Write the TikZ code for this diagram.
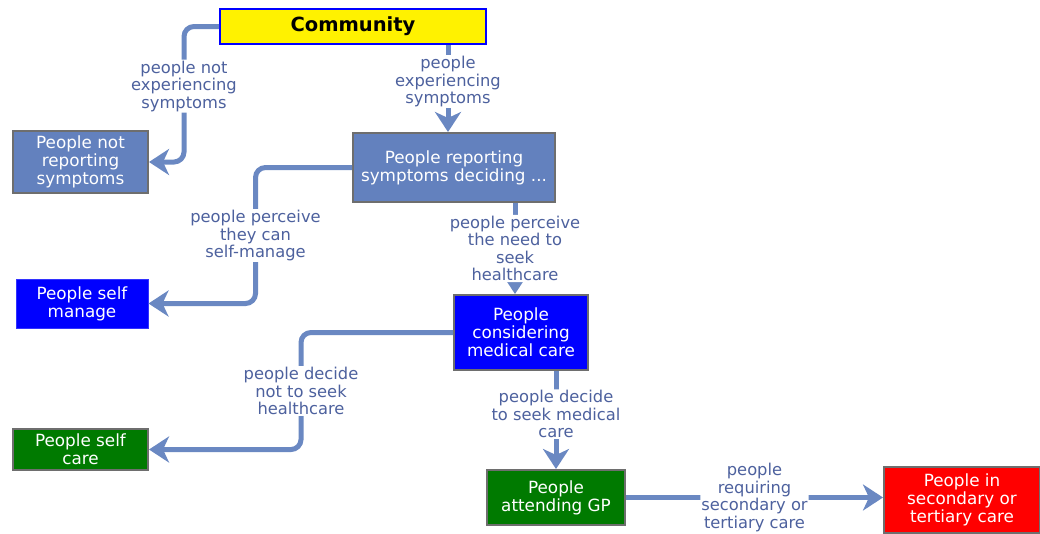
\documentclass[tikz,border=0pt]{standalone}
\usepackage{fontspec}
\setmainfont{DejaVu Sans}
\usetikzlibrary{arrows.meta}
\definecolor{steel}{HTML}{6381BE}
\definecolor{conncol}{HTML}{6A88C2}
\definecolor{labcol}{HTML}{4D619E}
\definecolor{bordgray}{HTML}{6E6E6E}
\definecolor{gpgreen}{HTML}{007A00}
\tikzset{
  box/.style={draw=bordgray, line width=2pt, text=white, align=center, inner sep=0pt,
    font=\fontsize{16.8}{18}\selectfont},
  conn/.style={draw=conncol, line width=5pt, rounded corners=10pt,
    -{Stealth[length=20pt,width=26pt,inset=6pt]}},
  lab/.style={fill=white, text=labcol, align=center, inner sep=1pt,
    font=\fontsize{16.3}{17.5}\selectfont},
}
\begin{document}
\begin{tikzpicture}[x=1pt,y=-1pt]
\useasboundingbox (0,0) rectangle (1040,533);
\node[draw=blue, line width=2pt, fill=yellow, minimum width=266pt, minimum height=35pt,
  font=\fontsize{19.5}{22}\selectfont\bfseries, inner sep=0pt] (comm) at (353,26.5) {Community};
\node[box, fill=steel, minimum width=135pt, minimum height=62pt] (nrep) at (80.5,162) {People not\\reporting\\symptoms};
\node[box, fill=steel, minimum width=202pt, minimum height=69pt] (rep) at (454,167.5) {People reporting\\symptoms deciding ...};
\node[box, fill=blue, draw=blue!80!white, line width=1pt, minimum width=132pt, minimum height=49pt] (sm) at (82,303.5) {People self\\manage};
\node[box, fill=blue, minimum width=134pt, minimum height=75pt] (cons) at (521,332.5) {People\\considering\\medical care};
\node[box, fill=gpgreen, minimum width=135pt, minimum height=41pt] (sc) at (80.5,449.5) {People self\\care};
\node[box, fill=gpgreen, minimum width=138pt, minimum height=55pt] (gp) at (556,497.5) {People\\attending GP};
\node[box, fill=red, minimum width=156pt, minimum height=66pt] (sec) at (962,500) {People in\\secondary or\\tertiary care};

\draw[conn] (comm.west) -| node[lab, pos=0.72]{people not\\experiencing\\symptoms} ([xshift=35pt]nrep.east) -- (nrep.east);
\draw[conn] ([xshift=95pt]comm.south) -- node[lab, pos=0.42]{people\\experiencing\\symptoms} ([xshift=95pt]comm.south |- rep.north);
\draw[conn] (rep.west) -| node[lab, pos=0.75]{people perceive\\they can\\self-manage} ([xshift=107pt]sm.east) -- (sm.east);
\draw[conn] ([xshift=61pt]rep.south) -- node[lab, pos=0.5]{people perceive\\the need to\\seek\\healthcare} ([xshift=61pt]rep.south |- cons.north);
\draw[conn] (cons.west) -| node[lab, pos=0.75]{people decide\\not to seek\\healthcare} ([xshift=152pt]sc.east) -- (sc.east);
\draw[conn] (cons.south -| gp.north) -- node[lab, pos=0.44]{people decide\\to seek medical\\care} (gp.north);
\draw[conn] (gp.east) -- node[lab, pos=0.5]{people\\requiring\\secondary or\\tertiary care} (gp.east -| sec.west);
\end{tikzpicture}
\end{document}
